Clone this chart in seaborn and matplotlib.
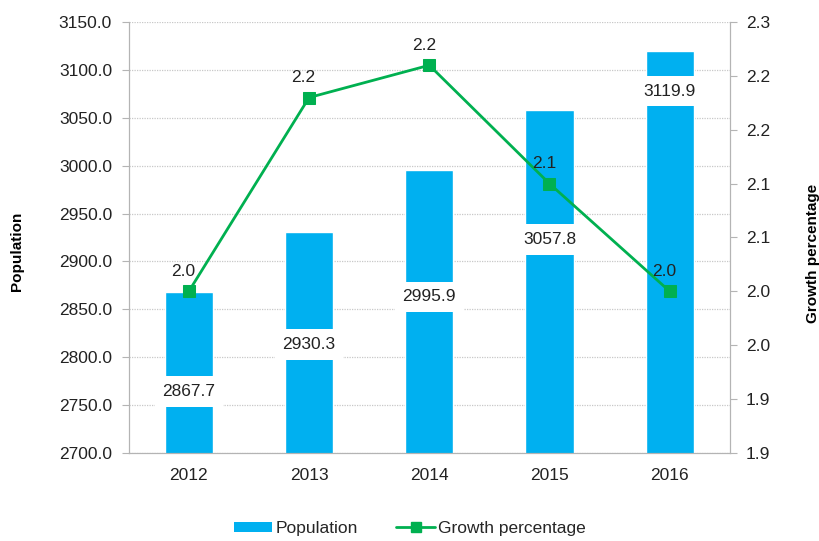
import numpy as np
import matplotlib
matplotlib.use("Agg")
import matplotlib.pyplot as plt
import seaborn as sns
from matplotlib.ticker import FuncFormatter
from matplotlib.patches import Patch
from matplotlib.lines import Line2D
from decimal import Decimal, ROUND_HALF_UP

# data
years = ["2012", "2013", "2014", "2015", "2016"]
population = [2867.7, 2930.3, 2995.9, 3057.8, 3119.9]
growth = [2.00, 2.18, 2.21, 2.10, 2.00]

# where the population labels sit (left axis units)
label_y = [2764, 2813, 2863, 2923, 3078]

bar_color = "#00B0F0"
line_color = "#00B050"
text_color = "#222222"
axis_color = "#b4b4b4"

sns.set_style("white")
plt.rcParams["font.family"] = ["Liberation Sans", "DejaVu Sans"]
plt.rcParams["font.size"] = 12.5

fig = plt.figure(figsize=(8.2, 5.41), dpi=100)
ax = fig.add_axes([0.157, 0.163, 0.733, 0.796])

sns.barplot(x=years, y=population, color=bar_color, saturation=1, width=0.4,
            ax=ax, zorder=2)
ax.set_xlim(-0.5, 4.5)
ax.set_ylim(2700, 3150)
ax.set_yticks(np.arange(2700, 3151, 50))
ax.yaxis.set_major_formatter(FuncFormatter(lambda v, p: f"{v:.1f}"))
ax.yaxis.grid(True, color="#c8c8c8", linestyle=(0, (1, 1)), linewidth=0.9, zorder=0)
ax.set_axisbelow(True)
ax.set_xlabel("")
ax.set_ylabel("")

ax.spines["top"].set_visible(False)
for s in ["left", "bottom", "right"]:
    ax.spines[s].set_color(axis_color)
ax.tick_params(axis="y", direction="out", length=5, color=axis_color,
               labelcolor=text_color, pad=7)
ax.tick_params(axis="x", length=0, labelcolor=text_color, pad=11)

for i, (v, ly) in enumerate(zip(population, label_y)):
    ax.text(i, ly, f"{v:.1f}", ha="center", va="center", color=text_color, zorder=5,
            bbox=dict(facecolor="white", edgecolor="none", boxstyle="square,pad=0.45"))

# growth line on the secondary axis
ax2 = ax.twinx()
sns.lineplot(x=np.arange(len(years)), y=growth, ax=ax2, color=line_color,
             linewidth=2, marker="s", markersize=8, markeredgecolor=line_color)
ax2.set_ylim(1.85, 2.25)
ax2.set_yticks(np.linspace(1.85, 2.25, 9))


def half_up(v, p):
    d = Decimal(str(round(v, 4))).quantize(Decimal("0.1"), rounding=ROUND_HALF_UP)
    return str(d)


ax2.yaxis.set_major_formatter(FuncFormatter(half_up))
ax2.tick_params(axis="y", direction="out", length=5, color=axis_color,
                labelcolor=text_color, pad=6.5)
ax2.set_ylabel("")
ax2.spines["top"].set_visible(False)
for s in ["left", "bottom", "right"]:
    ax2.spines[s].set_color(axis_color)
ax2.grid(False)

for i, g in enumerate(growth):
    ax2.annotate(half_up(g, None), (i, g), xytext=(-4, 14.5), textcoords="offset points",
                 ha="center", va="center", color=text_color)

# axis titles
fig.text(0.0207, 0.536, "Population", rotation=90, ha="center", va="center",
         fontweight="bold", fontsize=11, color="black")
fig.text(0.9915, 0.532, "Growth percentage", rotation=90, ha="center", va="center",
         fontweight="bold", fontsize=11, color="black")

handles = [Patch(facecolor=bar_color, edgecolor="none"),
           Line2D([], [], color=line_color, linewidth=2, marker="s", markersize=7)]
fig.legend(handles, ["Population", "Growth percentage"], loc="center",
           bbox_to_anchor=(0.5, 0.023), ncol=2, frameon=False,
           handlelength=2.2, handleheight=0.55, columnspacing=2.2, handletextpad=0.2)

fig.savefig("out.png", dpi=100)
